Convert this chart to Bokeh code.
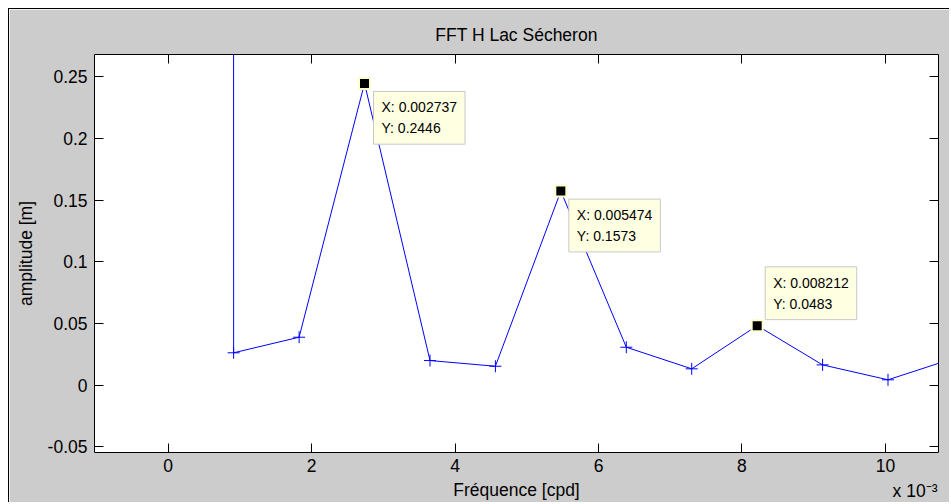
from bokeh.plotting import figure
from bokeh.models import LinearAxis, FixedTicker, CustomJSTickFormatter, Label, ColumnDataSource, Range1d, Title
from bokeh.embed import file_html
from bokeh.resources import INLINE

# ---- data ----
freq = [0.0, 0.000912, 0.001825, 0.002737, 0.003650, 0.004562, 0.005474,
        0.006387, 0.007299, 0.008212, 0.009124, 0.010036, 0.010949]
amp = [372.0, 0.0263, 0.0389, 0.2446, 0.0200, 0.0154, 0.1573,
       0.0308, 0.0133, 0.0483, 0.0165, 0.0044, 0.0217]
tip_idx = [3, 6, 9]
x_ticks = [0.0, 0.002, 0.004, 0.006, 0.008, 0.010]
y_ticks = [-0.05, 0.0, 0.05, 0.1, 0.15, 0.2, 0.25]

FONT = "Liberation Sans"
AX_FS = "17.5px"
TIP_FS = "14px"
GRAY = "#cccccc"

p = figure(width=941, height=494, output_backend="svg", toolbar_location=None,
           x_range=Range1d(-0.001028, 0.01074), y_range=Range1d(-0.0545, 0.268),
           min_border_left=85, min_border_top=45, min_border_right=12, min_border_bottom=51)
p.styles = {"margin-left": "8px", "margin-top": "8px",
            "border-top": "1px solid #000", "border-left": "1px solid #000"}
p.background_fill_color = "white"
p.border_fill_color = GRAY
p.outline_line_color = "#000000"
p.outline_line_width = 1
p.xgrid.visible = False
p.ygrid.visible = False

p.title.text = "FFT H Lac Sécheron"
p.title.align = "center"
p.title.text_font = FONT
p.title.text_font_size = AX_FS
p.title.text_font_style = "normal"
p.title.text_color = "#000000"
p.title.standoff = 19

xfmt = CustomJSTickFormatter(code="return String(Math.round(tick*1000));")
yfmt = CustomJSTickFormatter(code="return String(Number(tick.toFixed(2)));")

def style_axis(ax, ticks, fmt, labels=True):
    ax.ticker = FixedTicker(ticks=ticks, minor_ticks=[])
    ax.formatter = fmt
    ax.major_tick_in = 9
    ax.major_tick_out = 0
    ax.minor_tick_in = 0
    ax.minor_tick_out = 0
    ax.major_tick_line_color = "#000000"
    ax.axis_line_color = None
    ax.major_label_text_font = FONT
    if labels:
        ax.major_label_text_color = "#000000"
        ax.major_label_text_font_size = AX_FS
        ax.major_label_standoff = 6
    else:
        ax.major_label_text_color = None
        ax.major_label_text_font_size = "1px"
        ax.major_label_standoff = 0
    ax.axis_label_text_font = FONT
    ax.axis_label_text_font_size = AX_FS
    ax.axis_label_text_font_style = "normal"
    ax.axis_label_text_color = "#000000"

xb = p.below[0]
style_axis(xb, x_ticks, xfmt)
xb.axis_label = "Fréquence [cpd]"
xb.axis_label_standoff = 5
xb.major_label_standoff = 6

yl = p.left[0]
style_axis(yl, y_ticks, yfmt)
yl.axis_label = "amplitude [m]"
yl.axis_label_standoff = 9
yl.major_label_standoff = 7

xt = LinearAxis()
style_axis(xt, x_ticks, xfmt, labels=False)
p.add_layout(xt, "above")
yr = LinearAxis()
style_axis(yr, y_ticks, yfmt, labels=False)
p.add_layout(yr, "right")

# scale note under the x axis (placed in the bottom panel so it is not clipped)
note = Title(text="x 10\u207b\u00b3", align="right", vertical_align="top",
             offset=1, standoff=-44,
             text_font=FONT, text_font_size=AX_FS, text_font_style="normal",
             text_color="#000000")
p.add_layout(note, "below")

src = ColumnDataSource(dict(f=freq, a=amp))
p.line("f", "a", source=src, line_color="#0000ff", line_width=1)
p.scatter("f", "a", source=src, marker="cross", size=12, line_color="#0000ff", line_width=1)

tip_src = ColumnDataSource(dict(f=[freq[i] for i in tip_idx], a=[amp[i] for i in tip_idx]))
p.scatter("f", "a", source=tip_src, marker="square", size=11, fill_color="#000000",
          line_color="#ffffcc", line_width=2)

tip_offsets = [(9, -8, "top_left"), (8, -8, "top_left"), (8, 6, "bottom_left")]
for i, (dx, dy, anc) in zip(tip_idx, tip_offsets):
    lab = Label(x=freq[i], y=amp[i], x_offset=dx, y_offset=dy, anchor=anc,
                text=f"X: {freq[i]:.6f}\nY: {amp[i]:.4f}",
                text_font=FONT, text_font_size=TIP_FS, text_color="#000000",
                text_line_height=1.3, padding=8,
                background_fill_color="#ffffe1", border_line_color="#c8c8c8",
                border_line_width=1)
    p.add_layout(lab)

open("out.html", "w").write(file_html(p, INLINE))
